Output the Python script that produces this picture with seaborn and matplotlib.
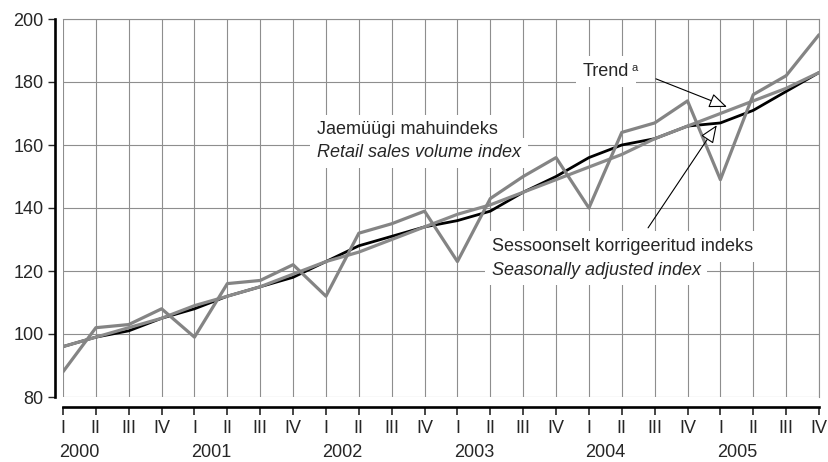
import numpy as np
import pandas as pd
import seaborn as sns
import matplotlib.pyplot as plt

# Quarterly data 2000-2005
years = ['2000', '2001', '2002', '2003', '2004', '2005']
quarters = ['I', 'II', 'III', 'IV']
volume_index = [88, 102, 103, 108, 99, 116, 117, 122, 112, 132, 135, 139,
                123, 143, 150, 156, 140, 164, 167, 174, 149, 176, 182, 195]
seas_adjusted = [96, 99, 101, 105, 108, 112, 115, 118, 123, 128, 131, 134,
                 136, 139, 145, 150, 156, 160, 162, 166, 167, 171, 177, 183]
trend = [96, 99, 102, 105, 109, 112, 115, 119, 123, 126, 130, 134,
         138, 141, 145, 149, 153, 157, 162, 166, 170, 174, 178, 183]

df = pd.DataFrame({
    'pos': np.arange(len(volume_index)),
    'volume': volume_index,
    'sa': seas_adjusted,
    'trend': trend,
})

sns.set_style('white')
plt.rcParams['font.family'] = ['Liberation Sans', 'DejaVu Sans']

fig = plt.figure(figsize=(8.29, 4.62), dpi=100)
ax = fig.add_axes([63 / 829, 65 / 462, 756 / 829, 378 / 462])

sns.lineplot(data=df, x='pos', y='sa', ax=ax, color='black', lw=2.0, zorder=3)
sns.lineplot(data=df, x='pos', y='trend', ax=ax, color='#8a8a8a', lw=2.3, zorder=4)
sns.lineplot(data=df, x='pos', y='volume', ax=ax, color='#848484', lw=2.3, zorder=5)

ax.set_xlim(0, 23)
ax.set_ylim(80, 200)
ax.set_yticks(range(80, 201, 20))
ax.set_xticks(df['pos'])
ax.set_xticklabels(quarters * len(years))
ax.set_xlabel('')
ax.set_ylabel('')

ax.grid(True, color='#8e8e8e', lw=0.8)
ax.set_axisbelow(True)

for s in ['top', 'right']:
    ax.spines[s].set_color('#8e8e8e')
    ax.spines[s].set_linewidth(0.8)
# spine offsets are in points (8 px and 10 px at 100 dpi)
ax.spines['left'].set_position(('outward', 5.8))
ax.spines['bottom'].set_position(('outward', 7.2))
ax.spines['left'].set_linewidth(1.9)
ax.spines['bottom'].set_linewidth(1.9)
ax.spines['left'].set_color('black')
ax.spines['bottom'].set_color('black')

ax.tick_params(axis='y', left=True, length=5, width=1, pad=3, labelsize=13)
ax.tick_params(axis='x', bottom=True, length=5.5, width=1.2, pad=4, labelsize=13)

# year labels under the quarter labels
for i, yr in enumerate(years):
    ax.annotate(yr, xy=(i * 4 + 0.5, 0), xycoords=('data', 'axes fraction'),
                xytext=(0, -43.5), textcoords='offset points',
                ha='center', va='baseline', fontsize=13)

box = dict(facecolor='white', edgecolor='none', pad=5)
ax.text(7.73, 164.8, 'Jaemüügi mahuindeks', fontsize=13, va='center', bbox=box, zorder=6)
ax.text(7.73, 157.5, 'Retail sales volume index', fontsize=13, style='italic',
        va='center', bbox=box, zorder=6)
ax.text(13.04, 127.7, 'Sessoonselt korrigeeritud indeks', fontsize=13, va='center',
        bbox=box, zorder=6)
ax.text(13.04, 120.3, 'Seasonally adjusted index', fontsize=13, style='italic',
        va='center', bbox=box, zorder=6)
ax.text(15.81, 183.3, 'Trend', fontsize=13, va='center', bbox=box, zorder=6)
ax.text(17.3, 184.6, 'a', fontsize=8, va='center', zorder=7)

arrow = dict(arrowstyle='-|>,head_length=1.1,head_width=0.45', fc='white',
             ec='black', lw=0.8, shrinkA=0, shrinkB=0)
ax.annotate('', xy=(20.2, 172.1), xytext=(18.04, 181), arrowprops=arrow, zorder=8)
ax.annotate('', xy=(19.89, 166.3), xytext=(17.8, 133.7), arrowprops=arrow, zorder=8)

plt.savefig('out.png', dpi=100)
